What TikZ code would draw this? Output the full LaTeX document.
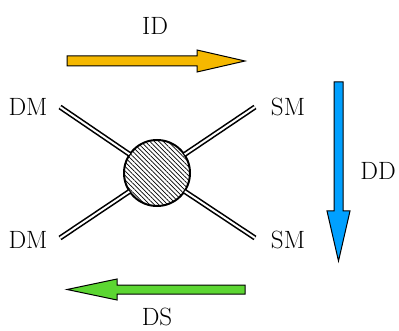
\documentclass[tikz,border=0pt]{standalone}
\usetikzlibrary{patterns.meta}
\definecolor{idcol}{RGB}{245,184,0}
\definecolor{ddcol}{RGB}{0,160,255}
\definecolor{dscol}{RGB}{92,214,50}
\begin{document}
\begin{tikzpicture}[x=1pt,y=-1pt,
  lbl/.style={font=\fontsize{25}{29}\selectfont, inner sep=0pt},
  prop/.style={draw=black, line width=1.6pt, double=white, double distance=2pt},
  fatarrow/.style={draw=black, line width=1pt, line join=miter}]
\useasboundingbox (0,0) rectangle (399,331);
% blob
\node[circle, draw, line width=2pt, minimum size=66pt, inner sep=0pt,
  pattern={Lines[angle=-45,distance=3.2pt,line width=0.7pt]}] (c) at (157,173) {};
% line ends
\coordinate (tl) at (60,107);
\coordinate (tr) at (255,107);
\coordinate (bl) at (60,238);
\coordinate (br) at (255,238);
\draw[prop] (tl) -- (c);
\draw[prop] (tr) -- (c);
\draw[prop] (bl) -- (c);
\draw[prop] (br) -- (c);
% labels
\node[lbl] (dm1) at (28,107) {DM};
\node[lbl] (sm1) at (288,107) {SM};
\node[lbl] (dm2) at (28,240) {DM};
\node[lbl] (sm2) at (288,240) {SM};
\node[lbl] (id) at (155,26) {ID};
\node[lbl] (dd) at (378,171) {DD};
\node[lbl] (ds) at (157,317) {DS};
% ID arrow
\fill[idcol, fatarrow] (67,56) -- (197,56) -- (197,50) -- (245,61) -- (197,72) -- (197,66) -- (67,66) -- cycle;
% DD arrow
\fill[ddcol, fatarrow] (334,82) -- (343,82) -- (343,211) -- (350,211) -- (338.5,261) -- (327,211) -- (334,211) -- cycle;
% DS arrow
\fill[dscol, fatarrow] (245,285) -- (117,285) -- (117,279) -- (67,289.5) -- (117,300) -- (117,294) -- (245,294) -- cycle;
\end{tikzpicture}
\end{document}
